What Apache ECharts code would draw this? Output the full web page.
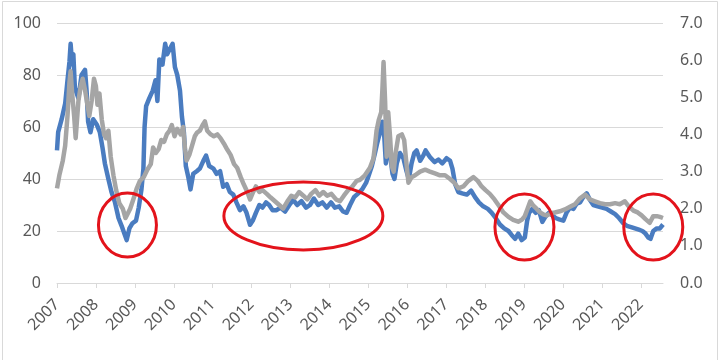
<!DOCTYPE html>
<html>
<head>
<meta charset="utf-8">
<script src="https://cdn.jsdelivr.net/npm/echarts@6/dist/echarts.min.js"></script>
<style>
html,body{margin:0;padding:0;background:#fff;}
#chart{width:720px;height:360px;}
</style>
</head>
<body>
<div id="chart"></div>
<script>
// ---- Data ----
const yearTicks = [2007,2008,2009,2010,2011,2012,2013,2014,2015,2016,2017,2018,2019,2020,2021,2022];
const leftTicks = [0,20,40,60,80,100];
const rightTicks = [0,1,2,3,4,5,6,7];
const seriesNames = ['市盈率（左轴）', '市净率（右轴）'];

// Blue series (left axis)
const peDates = [2007.00,2007.03,2007.12,2007.21,2007.27,2007.32,2007.35,2007.39,2007.42,2007.46,2007.55,2007.63,2007.72,2007.76,2007.80,2007.86,2007.93,2008.02,2008.10,2008.17,2008.23,2008.32,2008.40,2008.49,2008.58,2008.66,2008.73,2008.79,2008.86,2008.94,2009.03,2009.10,2009.17,2009.22,2009.25,2009.29,2009.37,2009.46,2009.53,2009.58,2009.63,2009.71,2009.78,2009.83,2009.90,2009.97,2010.03,2010.09,2010.16,2010.21,2010.26,2010.31,2010.37,2010.43,2010.50,2010.59,2010.67,2010.76,2010.83,2010.91,2011.02,2011.10,2011.19,2011.27,2011.36,2011.44,2011.53,2011.61,2011.70,2011.79,2011.87,2011.96,2012.03,2012.11,2012.20,2012.28,2012.37,2012.45,2012.54,2012.64,2012.74,2012.86,2012.97,2013.07,2013.17,2013.28,2013.40,2013.50,2013.60,2013.71,2013.82,2013.93,2014.04,2014.14,2014.25,2014.35,2014.44,2014.53,2014.63,2014.74,2014.84,2014.94,2015.00,2015.09,2015.17,2015.23,2015.30,2015.36,2015.41,2015.45,2015.51,2015.57,2015.62,2015.67,2015.73,2015.81,2015.90,2015.98,2016.04,2016.11,2016.18,2016.24,2016.33,2016.41,2016.47,2016.58,2016.70,2016.80,2016.90,2017.01,2017.10,2017.16,2017.23,2017.31,2017.41,2017.53,2017.64,2017.74,2017.84,2017.95,2018.07,2018.17,2018.27,2018.38,2018.49,2018.60,2018.68,2018.77,2018.85,2018.94,2019.02,2019.08,2019.13,2019.21,2019.30,2019.38,2019.47,2019.55,2019.64,2019.73,2019.81,2019.90,2020.01,2020.09,2020.18,2020.27,2020.35,2020.44,2020.52,2020.61,2020.69,2020.78,2020.89,2021.01,2021.12,2021.23,2021.34,2021.44,2021.55,2021.64,2021.75,2021.85,2021.95,2022.04,2022.12,2022.19,2022.25,2022.32,2022.41,2022.49,2022.57];
const peValues = [51,58,63,69,78,85,92,84,88,75,71,80,82,74,62,58,63,61,58,52,46,40,35,31,25,22,19,16.5,21,23,24,29,36,44,60,68,71,74,78,70,86,84,92,88,90,92,83,80,74,64,58,45,41,36,42,43,44,47,49,45,44,42,43,37,38,35,34,31,28,29.5,27,22.4,24,27,30,29,31,30,28,28,29,27.5,30,32,30,31.5,29,30,32.5,30,31,29,31,29,29.5,27.5,27,30,33,34.5,36,38.5,41,45,50,54,58,62,56,46,55,48,42,40,46,50,48,43,40,46,50,51,47,49,51,48.5,46.5,47.5,46,48,47,44,38,35,34.5,34,35.5,33,31,29.5,28.5,27,25,22.5,21,20,18.5,17,19,16.5,17.5,24,27,28.5,27,28,23.5,25.5,27,26,25,24.5,24,27,29,28.5,30.5,31,33,34.5,32,30,29.5,29,28.5,27.5,26.5,25,23,22,21.5,21,20.5,20,19,17.5,17,20,21,21,22.5];

// Gray series (right axis)
const pbDates = [2007.00,2007.06,2007.15,2007.21,2007.27,2007.32,2007.35,2007.39,2007.44,2007.48,2007.55,2007.61,2007.66,2007.72,2007.78,2007.83,2007.89,2007.95,2008.00,2008.04,2008.09,2008.15,2008.21,2008.26,2008.32,2008.38,2008.45,2008.52,2008.60,2008.69,2008.76,2008.81,2008.88,2008.96,2009.05,2009.13,2009.23,2009.32,2009.41,2009.47,2009.54,2009.61,2009.68,2009.75,2009.82,2009.89,2009.95,2010.02,2010.09,2010.18,2010.24,2010.29,2010.33,2010.40,2010.47,2010.54,2010.60,2010.67,2010.74,2010.80,2010.86,2010.95,2011.03,2011.12,2011.20,2011.29,2011.37,2011.46,2011.55,2011.63,2011.72,2011.80,2011.89,2011.96,2012.04,2012.11,2012.20,2012.28,2012.39,2012.49,2012.60,2012.71,2012.81,2012.92,2013.02,2013.12,2013.22,2013.33,2013.43,2013.53,2013.64,2013.74,2013.84,2013.94,2014.05,2014.17,2014.27,2014.37,2014.48,2014.59,2014.70,2014.79,2014.91,2015.04,2015.13,2015.17,2015.21,2015.27,2015.33,2015.36,2015.39,2015.43,2015.47,2015.51,2015.56,2015.60,2015.65,2015.70,2015.77,2015.86,2015.92,2015.98,2016.03,2016.11,2016.20,2016.33,2016.46,2016.58,2016.71,2016.84,2016.97,2017.10,2017.21,2017.31,2017.44,2017.57,2017.70,2017.81,2017.91,2018.01,2018.12,2018.24,2018.34,2018.47,2018.60,2018.72,2018.85,2018.94,2019.02,2019.09,2019.16,2019.24,2019.32,2019.41,2019.49,2019.58,2019.69,2019.79,2019.92,2020.05,2020.18,2020.31,2020.44,2020.57,2020.69,2020.82,2020.95,2021.08,2021.21,2021.34,2021.46,2021.59,2021.70,2021.81,2021.92,2022.02,2022.12,2022.23,2022.32,2022.41,2022.49,2022.57];
const pbValues = [2.55,2.9,3.3,3.7,4.5,5.4,5.7,5.1,4.5,3.9,4.9,5.3,5.5,5.2,4.8,4.5,4.9,5.5,5.3,4.8,5.1,4.4,4.0,3.9,4.1,3.4,2.9,2.5,2.15,2.0,1.75,1.8,2.0,2.25,2.55,2.75,2.85,3.05,3.2,3.65,3.5,3.6,3.85,3.8,4.0,4.1,4.25,3.95,4.15,4.0,4.2,3.6,3.3,3.45,3.7,3.95,4.05,4.1,4.25,4.35,4.1,4.0,3.95,4.0,3.9,3.75,3.6,3.45,3.2,3.1,2.85,2.65,2.45,2.25,2.45,2.6,2.45,2.5,2.4,2.3,2.2,2.1,2.0,2.2,2.35,2.3,2.45,2.35,2.25,2.4,2.5,2.35,2.45,2.35,2.4,2.25,2.2,2.35,2.5,2.6,2.75,2.78,2.9,3.1,3.35,3.7,4.1,4.4,4.6,5.2,5.95,4.9,3.4,4.6,3.9,3.15,3.0,3.5,3.95,4.0,3.85,3.2,2.7,2.85,2.9,3.0,3.05,3.0,2.95,2.9,2.9,2.8,2.7,2.55,2.6,2.75,2.85,2.75,2.6,2.5,2.4,2.25,2.1,1.9,1.78,1.7,1.65,1.7,1.8,2.0,2.2,2.08,2.0,1.9,1.85,1.82,1.88,1.9,1.93,1.98,2.05,2.12,2.28,2.38,2.25,2.2,2.15,2.12,2.12,2.15,2.12,2.2,2.05,1.95,1.9,1.82,1.72,1.62,1.8,1.8,1.78,1.75];

// Annotation ellipses: centre in data coordinates (year, left-axis value)
const ellipseCentres = [[2008.81, 22.3], [2013.33, 25.8], [2019.01, 21.5], [2022.32, 21.5]];
const ellipseRadii = [[29, 32], [79.5, 34], [29.5, 33], [29.5, 33]];

const pairs = (xs, ys) => xs.map((x, i) => [x, ys[i]]);

const chart = echarts.init(document.getElementById('chart'), null, {renderer: 'canvas'});
const font = '"Noto Sans", "Open Sans", sans-serif';
const labelColor = '#595959';
const option = {
  animation: false,
  backgroundColor: '#ffffff',
  grid: {left: 57, right: 57, top: 23, bottom: 77, containLabel: false},
  legend: {
    data: seriesNames,
    top: 358, left: 'center', itemGap: 40, itemWidth: 30, itemHeight: 4,
    textStyle: {color: '#8c8c8c', fontSize: 15, fontFamily: font}
  },
  xAxis: {
    type: 'value', min: 2007, max: 2022.57,
    axisLine: {show: true, lineStyle: {color: '#d9d9d9', width: 1}},
    axisTick: {show: true, length: 5, lineStyle: {color: '#d9d9d9'}, customValues: yearTicks},
    axisLabel: {customValues: yearTicks, rotate: 45, margin: 19, color: labelColor, fontSize: 16, fontFamily: font,
      formatter: v => String(Math.round(v))},
    splitLine: {show: false}
  },
  yAxis: [
    {type: 'value', min: 0, max: 100, interval: 20, position: 'left',
      axisLine: {show: false}, axisTick: {show: false},
      axisLabel: {margin: 16, color: labelColor, fontSize: 16, fontFamily: font, customValues: leftTicks},
      splitLine: {show: true, lineStyle: {color: '#d9d9d9', width: 1}}},
    {type: 'value', min: 0, max: 7, interval: 1, position: 'right',
      axisLine: {show: false}, axisTick: {show: false},
      axisLabel: {margin: 17, color: labelColor, fontSize: 16, fontFamily: font, customValues: rightTicks,
        formatter: v => v.toFixed(1)},
      splitLine: {show: false}}
  ],
  series: [
    {name: seriesNames[0], type: 'line', yAxisIndex: 0, data: pairs(peDates, peValues),
      showSymbol: false, symbol: 'none', lineStyle: {color: '#4a7cc0', width: 4.5, join: 'round'}, itemStyle: {color: '#4a7cc0'}, z: 2},
    {name: seriesNames[1], type: 'line', yAxisIndex: 1, data: pairs(pbDates, pbValues),
      showSymbol: false, symbol: 'none', lineStyle: {color: '#a5a5a5', width: 4.5, join: 'round'}, itemStyle: {color: '#a5a5a5'}, z: 3}
  ]
};
chart.setOption(option);

const graphics = [{
  type: 'rect', silent: true, z: 100,
  shape: {x: 2.5, y: 1.5, width: 715, height: 400},
  style: {fill: 'none', stroke: '#d9d9d9', lineWidth: 1}
}];
ellipseCentres.forEach((c, i) => {
  const p = chart.convertToPixel({xAxisIndex: 0, yAxisIndex: 0}, c);
  graphics.push({
    type: 'ellipse', silent: true, z: 100,
    shape: {cx: p[0], cy: p[1], rx: ellipseRadii[i][0], ry: ellipseRadii[i][1]},
    style: {fill: 'none', stroke: '#e3131b', lineWidth: 3}
  });
});
chart.setOption({graphic: graphics});
</script>
</body>
</html>
